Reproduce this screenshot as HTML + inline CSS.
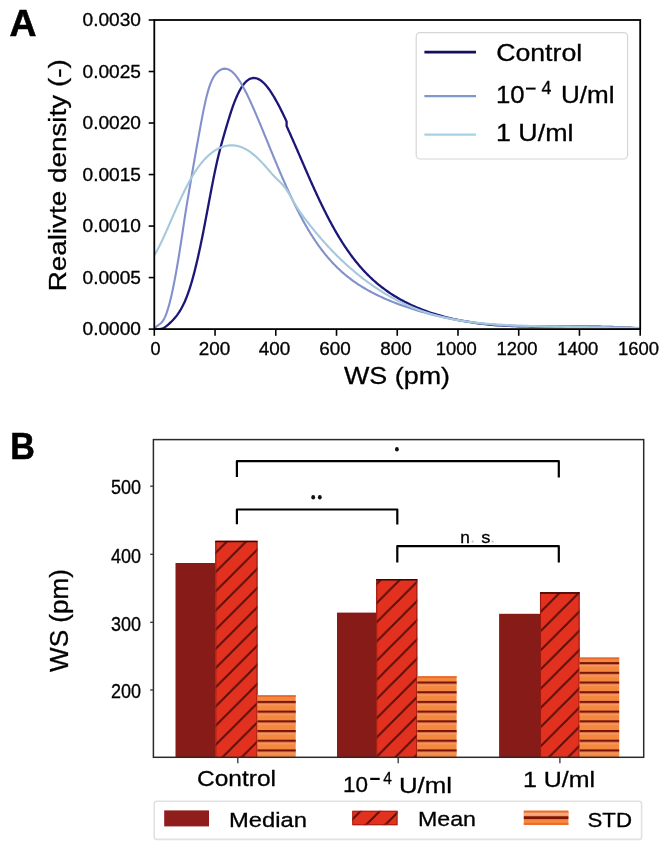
<!DOCTYPE html>
<html>
<head>
<meta charset="utf-8">
<style>
html,body{margin:0;padding:0;background:#fff;}
body{width:669px;height:846px;overflow:hidden;}
svg{display:block;filter:blur(0.35px);}
text{font-family:"Liberation Sans",sans-serif;fill:#000;stroke:#000;stroke-width:0.3px;}
</style>
</head>
<body>
<svg width="669" height="846" viewBox="0 0 669 846">
<defs>
  <pattern id="hatchD" patternUnits="userSpaceOnUse" x="0.5" y="0" width="19.2" height="19.2">
    <path d="M-3,3 L3,-3 M0,19.2 L19.2,0 M16.2,22.2 L22.2,16.2" stroke="#3e0806" stroke-width="1.9" stroke-opacity="0.85"/>
  </pattern>
  <pattern id="hatchH" patternUnits="userSpaceOnUse" x="0" y="2.500000000000032" width="20" height="9.7">
    <rect x="0" y="0" width="20" height="2.4" fill="#7a1409"/>
    <rect x="0" y="2.4" width="20" height="2.2" fill="#f59a68" fill-opacity="0.8"/>
  </pattern>
  <clipPath id="clipA"><rect x="154.3" y="20" width="485.9" height="309.1"/></clipPath>
  <clipPath id="clipB"><rect x="153.4" y="439.6" width="490.3" height="317.7"/></clipPath>
</defs>
<rect x="0" y="0" width="669" height="846" fill="#fff"/>

<!-- ============ PANEL A ============ -->
<text x="9.5" y="36.1" font-size="36" font-weight="bold" style="stroke-width:0.6px" textLength="27" lengthAdjust="spacingAndGlyphs">A</text>

<!-- curves -->
<g clip-path="url(#clipA)" fill="none" stroke-linejoin="round" stroke-linecap="round">
  <path d="M154.30,328.15 L156.47,329.13 L159.47,329.20 L162.47,328.63 L164.97,327.17 L166.68,325.89 L168.17,324.65 L169.54,323.42 L170.82,322.20 L172.04,320.98 L173.20,319.77 L174.30,318.55 L175.35,317.32 L176.34,316.10 L177.27,314.87 L178.15,313.65 L178.98,312.42 L179.76,311.20 L180.51,309.97 L181.21,308.75 L181.88,307.53 L182.52,306.31 L183.13,305.09 L183.72,303.87 L184.29,302.65 L184.83,301.44 L185.35,300.22 L185.86,299.01 L186.35,297.79 L186.83,296.58 L187.29,295.37 L187.74,294.16 L188.17,292.95 L188.60,291.73 L189.01,290.52 L189.42,289.31 L189.81,288.10 L190.20,286.90 L190.57,285.69 L190.94,284.48 L191.31,283.27 L191.66,282.06 L192.01,280.86 L192.36,279.65 L192.69,278.45 L193.02,277.24 L193.35,276.03 L193.67,274.83 L193.99,273.62 L194.30,272.42 L194.61,271.21 L194.92,270.01 L195.22,268.81 L195.52,267.59 L195.82,266.37 L196.12,265.12 L196.42,263.87 L196.72,262.60 L197.02,261.32 L197.32,260.02 L197.62,258.72 L197.92,257.39 L198.22,256.06 L198.52,254.71 L198.82,253.36 L199.12,251.99 L199.42,250.60 L199.72,249.21 L200.02,247.80 L200.32,246.39 L200.62,244.96 L200.92,243.52 L201.22,242.07 L201.52,240.61 L201.82,239.15 L202.12,237.67 L202.42,236.18 L202.72,234.68 L203.02,233.17 L203.32,231.66 L203.62,230.13 L203.92,228.60 L204.22,227.05 L204.52,225.50 L204.82,223.95 L205.12,222.38 L205.42,220.82 L205.72,219.24 L206.02,217.66 L206.32,216.08 L206.62,214.49 L206.92,212.90 L207.22,211.31 L207.52,209.72 L207.82,208.12 L208.12,206.53 L208.42,204.93 L208.72,203.34 L209.02,201.74 L209.32,200.15 L209.62,198.56 L209.92,196.97 L210.22,195.39 L210.52,193.81 L210.82,192.23 L211.12,190.66 L211.42,189.09 L211.72,187.53 L212.02,185.98 L212.32,184.43 L212.62,182.89 L212.92,181.36 L213.22,179.85 L213.52,178.34 L213.82,176.84 L214.12,175.36 L214.42,173.89 L214.72,172.43 L215.02,170.99 L215.32,169.56 L215.62,168.15 L215.92,166.76 L216.22,165.39 L216.52,164.03 L216.82,162.69 L217.12,161.37 L217.42,160.07 L217.72,158.79 L218.02,157.53 L218.32,156.28 L218.62,155.04 L218.92,153.83 L219.22,152.63 L219.52,151.44 L219.82,150.25 L220.13,149.06 L220.44,147.86 L220.76,146.67 L221.08,145.48 L221.40,144.29 L221.72,143.10 L222.05,141.91 L222.38,140.72 L222.71,139.53 L223.05,138.33 L223.39,137.14 L223.73,135.95 L224.07,134.75 L224.41,133.56 L224.76,132.37 L225.11,131.17 L225.46,129.98 L225.81,128.78 L226.16,127.59 L226.51,126.40 L226.87,125.20 L227.23,124.01 L227.59,122.82 L227.95,121.63 L228.31,120.43 L228.68,119.24 L229.05,118.05 L229.42,116.85 L229.79,115.66 L230.17,114.47 L230.55,113.28 L230.93,112.09 L231.32,110.90 L231.71,109.72 L232.12,108.53 L232.52,107.35 L232.94,106.17 L233.37,104.98 L233.80,103.80 L234.25,102.62 L234.71,101.44 L235.18,100.26 L235.66,99.08 L236.15,97.90 L236.66,96.73 L237.19,95.55 L237.73,94.38 L238.30,93.20 L238.88,92.03 L239.50,90.87 L240.14,89.70 L240.81,88.54 L241.52,87.38 L242.27,86.23 L243.08,85.08 L243.96,83.94 L244.91,82.81 L245.98,81.70 L247.20,80.61 L248.65,79.56 L250.53,78.59 L253.49,77.94 L256.49,78.31 L259.49,79.63 L261.48,80.99 L263.00,82.28 L264.30,83.54 L265.46,84.78 L266.52,86.02 L267.52,87.24 L268.45,88.47 L269.34,89.68 L270.19,90.90 L271.00,92.11 L271.79,93.32 L272.56,94.53 L273.30,95.74 L274.02,96.95 L274.73,98.15 L275.42,99.36 L276.10,100.56 L276.77,101.77 L277.42,102.97 L278.07,104.17 L278.70,105.37 L279.33,106.58 L279.94,107.78 L280.55,108.98 L281.16,110.18 L281.75,111.38 L282.34,112.58 L282.93,113.78 L283.50,114.98 L284.08,116.18 L284.65,117.38 L285.21,118.57 L285.77,119.77 L286.33,120.97 L286.59,121.53 L286.61,126.14 L287.16,127.34 L287.71,128.53 L288.26,129.73 L288.80,130.93 L289.34,132.13 L289.88,133.32 L290.41,134.52 L290.94,135.72 L291.48,136.91 L292.01,138.11 L292.53,139.31 L293.06,140.50 L293.58,141.70 L294.11,142.90 L294.63,144.09 L295.15,145.29 L295.67,146.48 L296.19,147.68 L296.71,148.87 L297.23,150.07 L297.74,151.27 L298.26,152.46 L298.78,153.66 L299.29,154.85 L299.81,156.05 L300.32,157.24 L300.84,158.44 L301.36,159.63 L301.87,160.82 L302.39,162.02 L302.90,163.21 L303.42,164.41 L303.94,165.60 L304.45,166.80 L304.97,167.99 L305.49,169.18 L306.01,170.38 L306.53,171.57 L307.05,172.77 L307.57,173.96 L308.10,175.15 L308.62,176.35 L309.15,177.54 L309.67,178.73 L310.20,179.93 L310.73,181.12 L311.26,182.31 L311.80,183.51 L312.33,184.70 L312.87,185.89 L313.40,187.08 L313.94,188.28 L314.49,189.47 L315.03,190.66 L315.58,191.85 L316.13,193.04 L316.68,194.24 L317.23,195.43 L317.78,196.62 L318.34,197.81 L318.90,199.00 L319.47,200.19 L320.03,201.39 L320.60,202.58 L321.18,203.77 L321.75,204.96 L322.33,206.15 L322.91,207.34 L323.50,208.53 L324.09,209.72 L324.68,210.91 L325.28,212.10 L325.88,213.29 L326.49,214.48 L327.10,215.67 L327.71,216.86 L328.33,218.05 L328.95,219.24 L329.58,220.43 L330.21,221.62 L330.85,222.81 L331.49,223.99 L332.14,225.18 L332.79,226.37 L333.45,227.56 L334.12,228.75 L334.79,229.94 L335.47,231.12 L336.15,232.31 L336.85,233.50 L337.54,234.68 L338.25,235.87 L338.96,237.06 L339.68,238.24 L340.41,239.43 L341.15,240.62 L341.90,241.80 L342.65,242.99 L343.41,244.17 L344.19,245.36 L344.97,246.54 L345.76,247.73 L346.57,248.91 L347.38,250.09 L348.21,251.28 L349.04,252.46 L349.89,253.64 L350.75,254.83 L351.63,256.01 L352.51,257.19 L353.42,258.37 L354.33,259.55 L355.26,260.73 L356.21,261.92 L357.17,263.10 L358.15,264.28 L359.14,265.46 L360.15,266.63 L361.19,267.81 L362.24,268.99 L363.31,270.17 L364.40,271.35 L365.52,272.52 L366.66,273.70 L367.82,274.87 L369.01,276.05 L370.22,277.22 L371.46,278.40 L372.73,279.57 L374.03,280.75 L375.36,281.92 L376.73,283.09 L378.13,284.26 L379.56,285.43 L381.04,286.60 L382.55,287.77 L384.11,288.94 L385.71,290.10 L387.35,291.27 L389.04,292.44 L390.79,293.60 L392.58,294.76 L394.44,295.93 L396.35,297.09 L398.32,298.25 L400.36,299.41 L402.47,300.57 L404.65,301.72 L406.92,302.88 L409.28,304.03 L411.73,305.18 L414.28,306.33 L416.94,307.48 L419.72,308.63 L422.63,309.77 L425.63,310.89 L428.63,311.96 L431.63,312.97 L434.63,313.93 L437.63,314.85 L440.63,315.72 L443.63,316.54 L446.63,317.32 L449.63,318.07 L452.63,318.77 L455.63,319.43 L458.63,320.06 L461.63,320.65 L464.63,321.21 L467.63,321.73 L470.63,322.22 L473.63,322.68 L476.63,323.10 L479.63,323.49 L482.63,323.85 L485.63,324.18 L488.63,324.49 L491.63,324.76 L494.63,325.01 L497.63,325.23 L500.63,325.44 L503.63,325.62 L506.63,325.78 L509.63,325.93 L512.63,326.05 L515.63,326.16 L518.63,326.26 L521.63,326.34 L524.63,326.41 L527.63,326.47 L530.63,326.52 L533.63,326.55 L536.63,326.58 L539.63,326.61 L542.63,326.62 L545.63,326.63 L548.63,326.64 L551.63,326.64 L554.63,326.63 L557.63,326.63 L560.63,326.62 L563.63,326.61 L566.63,326.61 L569.63,326.60 L572.63,326.59 L575.63,326.59 L578.63,326.59 L581.63,326.59 L584.63,326.60 L587.63,326.62 L590.63,326.63 L593.63,326.66 L596.63,326.69 L599.63,326.73 L602.63,326.78 L605.63,326.84 L608.63,326.91 L611.63,326.99 L614.63,327.08 L617.63,327.19 L620.63,327.30 L623.63,327.43 L626.63,327.58 L629.63,327.73 L632.63,327.91 L635.63,328.09 L638.63,328.30 L640.20,328.41" stroke="#1b1678" stroke-width="2.3"/>
  <path d="M154.30,329.20 L155.06,328.14 L155.95,327.06 L157.05,326.02 L158.48,324.98 L160.27,323.75 L161.78,322.32 L162.84,320.97 L163.65,319.66 L164.34,318.39 L164.94,317.13 L165.49,315.88 L165.98,314.64 L166.45,313.41 L166.88,312.18 L167.30,310.96 L167.69,309.73 L168.07,308.51 L168.43,307.30 L168.78,306.08 L169.12,304.87 L169.44,303.65 L169.76,302.44 L170.07,301.23 L170.38,300.02 L170.68,298.79 L170.98,297.54 L171.28,296.26 L171.58,294.95 L171.88,293.61 L172.18,292.25 L172.48,290.86 L172.78,289.45 L173.08,288.01 L173.38,286.54 L173.68,285.05 L173.98,283.54 L174.28,282.00 L174.58,280.44 L174.88,278.86 L175.18,277.26 L175.48,275.63 L175.78,273.99 L176.08,272.32 L176.38,270.64 L176.68,268.93 L176.98,267.21 L177.28,265.47 L177.58,263.72 L177.88,261.94 L178.18,260.15 L178.48,258.34 L178.78,256.52 L179.08,254.67 L179.38,252.82 L179.68,250.95 L179.98,249.06 L180.28,247.16 L180.58,245.25 L180.88,243.32 L181.18,241.38 L181.48,239.43 L181.78,237.46 L182.08,235.49 L182.38,233.50 L182.68,231.50 L182.98,229.48 L183.28,227.46 L183.58,225.43 L183.88,223.40 L184.18,221.38 L184.48,219.37 L184.78,217.39 L185.08,215.43 L185.38,213.50 L185.68,211.60 L185.98,209.73 L186.28,207.89 L186.58,206.06 L186.88,204.26 L187.18,202.46 L187.48,200.67 L187.78,198.89 L188.08,197.11 L188.38,195.34 L188.68,193.56 L188.98,191.79 L189.28,190.02 L189.58,188.25 L189.88,186.48 L190.18,184.72 L190.48,182.96 L190.78,181.20 L191.08,179.44 L191.38,177.69 L191.68,175.94 L191.98,174.19 L192.28,172.45 L192.58,170.71 L192.88,168.97 L193.18,167.24 L193.48,165.51 L193.78,163.78 L194.08,162.06 L194.38,160.34 L194.68,158.63 L194.98,156.92 L195.28,155.21 L195.58,153.51 L195.88,151.81 L196.18,150.11 L196.48,148.42 L196.78,146.73 L197.08,145.05 L197.38,143.36 L197.68,141.69 L197.98,140.01 L198.28,138.34 L198.58,136.68 L198.88,135.01 L199.18,133.36 L199.48,131.70 L199.78,130.06 L200.08,128.42 L200.38,126.78 L200.68,125.16 L200.98,123.54 L201.28,121.94 L201.58,120.34 L201.88,118.76 L202.18,117.19 L202.48,115.64 L202.78,114.10 L203.08,112.58 L203.38,111.08 L203.68,109.60 L203.98,108.14 L204.28,106.70 L204.58,105.28 L204.88,103.90 L205.18,102.53 L205.48,101.20 L205.78,99.89 L206.08,98.62 L206.38,97.37 L206.68,96.16 L206.98,94.98 L207.28,93.80 L207.60,92.62 L207.93,91.44 L208.27,90.27 L208.62,89.09 L208.99,87.92 L209.37,86.75 L209.77,85.58 L210.19,84.42 L210.63,83.25 L211.10,82.09 L211.60,80.94 L212.13,79.79 L212.71,78.64 L213.33,77.50 L214.01,76.36 L214.77,75.23 L215.61,74.11 L216.56,73.00 L217.66,71.90 L218.95,70.83 L220.55,69.81 L222.74,68.92 L225.74,68.66 L228.74,69.50 L231.26,71.05 L232.82,72.37 L234.09,73.64 L235.20,74.89 L236.21,76.13 L237.14,77.36 L238.02,78.59 L238.85,79.81 L239.64,81.02 L240.40,82.24 L241.13,83.45 L241.84,84.66 L242.53,85.87 L243.21,87.08 L243.86,88.28 L244.50,89.49 L245.13,90.69 L245.75,91.90 L246.36,93.10 L246.95,94.31 L247.54,95.51 L248.12,96.71 L248.70,97.91 L249.26,99.11 L249.82,100.31 L250.38,101.51 L250.93,102.71 L251.47,103.91 L252.01,105.11 L252.55,106.31 L253.08,107.51 L253.60,108.71 L254.13,109.91 L254.65,111.10 L255.17,112.30 L255.68,113.50 L256.20,114.70 L256.71,115.90 L257.21,117.09 L257.72,118.29 L258.22,119.49 L258.73,120.68 L259.23,121.88 L259.73,123.08 L260.22,124.27 L260.72,125.47 L261.22,126.67 L261.71,127.86 L262.20,129.06 L262.70,130.25 L263.19,131.45 L263.68,132.65 L264.17,133.84 L264.66,135.04 L265.15,136.23 L265.64,137.43 L266.13,138.62 L266.62,139.82 L267.11,141.01 L267.60,142.21 L268.09,143.40 L268.58,144.60 L269.07,145.79 L269.55,146.99 L270.04,148.18 L270.53,149.38 L271.03,150.57 L271.52,151.77 L272.01,152.96 L272.50,154.16 L272.99,155.35 L273.48,156.54 L273.98,157.74 L274.47,158.93 L274.97,160.13 L275.47,161.32 L275.96,162.51 L276.46,163.71 L276.96,164.90 L277.46,166.10 L277.96,167.29 L278.47,168.48 L278.97,169.67 L279.48,170.87 L279.99,172.06 L280.50,173.25 L281.01,174.45 L281.52,175.64 L282.04,176.83 L282.56,178.02 L283.08,179.22 L283.60,180.41 L284.12,181.60 L284.65,182.79 L285.18,183.99 L285.71,185.18 L286.24,186.37 L286.77,187.56 L287.31,188.75 L287.85,189.94 L288.40,191.14 L288.94,192.33 L289.49,193.52 L290.05,194.71 L290.60,195.90 L291.16,197.09 L291.72,198.28 L292.29,199.47 L292.86,200.66 L293.43,201.85 L294.01,203.04 L294.59,204.23 L295.18,205.42 L295.77,206.61 L296.36,207.80 L296.96,208.99 L297.56,210.18 L298.17,211.37 L298.78,212.56 L299.40,213.75 L300.02,214.94 L300.65,216.13 L301.28,217.32 L301.92,218.50 L302.56,219.69 L303.21,220.88 L303.87,222.07 L304.53,223.26 L305.20,224.44 L305.88,225.63 L306.56,226.82 L307.25,228.00 L307.95,229.19 L308.66,230.38 L309.37,231.56 L310.10,232.75 L310.83,233.93 L311.57,235.12 L312.32,236.30 L313.09,237.49 L313.86,238.67 L314.64,239.85 L315.43,241.04 L316.24,242.22 L317.06,243.40 L317.89,244.59 L318.73,245.77 L319.58,246.95 L320.45,248.13 L321.33,249.32 L322.23,250.50 L323.14,251.68 L324.07,252.86 L325.02,254.04 L325.98,255.22 L326.96,256.40 L327.95,257.58 L328.97,258.75 L330.01,259.93 L331.07,261.11 L332.14,262.29 L333.25,263.46 L334.37,264.64 L335.52,265.81 L336.70,266.99 L337.90,268.16 L339.13,269.34 L340.39,270.51 L341.68,271.68 L343.01,272.85 L344.37,274.03 L345.76,275.20 L347.19,276.36 L348.66,277.53 L350.18,278.70 L351.73,279.87 L353.34,281.04 L354.99,282.20 L356.69,283.37 L358.44,284.53 L360.26,285.69 L362.12,286.86 L364.05,288.02 L366.04,289.18 L368.10,290.34 L370.22,291.50 L372.41,292.66 L374.67,293.82 L377.00,294.98 L379.41,296.13 L381.89,297.29 L384.44,298.45 L387.09,299.60 L389.82,300.75 L392.64,301.90 L395.57,303.05 L398.57,304.19 L401.57,305.29 L404.57,306.35 L407.57,307.38 L410.57,308.36 L413.57,309.32 L416.57,310.24 L419.57,311.13 L422.57,311.99 L425.57,312.83 L428.57,313.63 L431.57,314.41 L434.57,315.16 L437.57,315.88 L440.57,316.58 L443.57,317.25 L446.57,317.89 L449.57,318.51 L452.57,319.11 L455.57,319.68 L458.57,320.23 L461.57,320.75 L464.57,321.25 L467.57,321.72 L470.57,322.16 L473.57,322.58 L476.57,322.98 L479.57,323.35 L482.57,323.69 L485.57,324.00 L488.57,324.30 L491.57,324.57 L494.57,324.81 L497.57,325.04 L500.57,325.25 L503.57,325.43 L506.57,325.60 L509.57,325.76 L512.57,325.89 L515.57,326.02 L518.57,326.13 L521.57,326.22 L524.57,326.31 L527.57,326.38 L530.57,326.45 L533.57,326.50 L536.57,326.55 L539.57,326.58 L542.57,326.62 L545.57,326.64 L548.57,326.66 L551.57,326.68 L554.57,326.69 L557.57,326.70 L560.57,326.71 L563.57,326.71 L566.57,326.72 L569.57,326.73 L572.57,326.73 L575.57,326.74 L578.57,326.75 L581.57,326.77 L584.57,326.78 L587.57,326.80 L590.57,326.83 L593.57,326.86 L596.57,326.90 L599.57,326.95 L602.57,327.01 L605.57,327.07 L608.57,327.14 L611.57,327.22 L614.57,327.32 L617.57,327.42 L620.57,327.54 L623.57,327.66 L626.57,327.80 L629.57,327.96 L632.57,328.13 L635.57,328.31 L638.57,328.51 L640.20,328.63" stroke="#8290cb" stroke-width="2.1"/>
  <path d="M154.30,255.20 L155.05,253.98 L155.77,252.76 L156.47,251.55 L157.14,250.34 L157.80,249.13 L158.43,247.92 L159.05,246.72 L159.66,245.51 L160.26,244.31 L160.85,243.10 L161.42,241.90 L161.99,240.70 L162.56,239.50 L163.11,238.30 L163.66,237.10 L164.21,235.90 L164.75,234.70 L165.29,233.50 L165.82,232.30 L166.35,231.11 L166.88,229.91 L167.41,228.71 L167.94,227.52 L168.47,226.32 L168.99,225.13 L169.52,223.93 L170.04,222.73 L170.56,221.54 L171.08,220.34 L171.61,219.15 L172.13,217.95 L172.65,216.76 L173.17,215.57 L173.70,214.37 L174.22,213.18 L174.75,211.98 L175.27,210.79 L175.80,209.60 L176.33,208.41 L176.86,207.21 L177.39,206.02 L177.93,204.83 L178.47,203.64 L179.01,202.45 L179.55,201.25 L180.10,200.06 L180.65,198.87 L181.20,197.68 L181.76,196.49 L182.32,195.30 L182.89,194.11 L183.46,192.93 L184.04,191.74 L184.62,190.55 L185.21,189.36 L185.81,188.17 L186.41,186.99 L187.02,185.80 L187.64,184.62 L188.27,183.43 L188.90,182.25 L189.55,181.06 L190.21,179.88 L190.88,178.70 L191.56,177.51 L192.25,176.33 L192.96,175.15 L193.68,173.97 L194.42,172.79 L195.18,171.61 L195.95,170.44 L196.75,169.26 L197.57,168.09 L198.41,166.91 L199.27,165.74 L200.16,164.57 L201.09,163.40 L202.05,162.23 L203.04,161.06 L204.07,159.90 L205.15,158.73 L206.28,157.57 L207.47,156.42 L208.72,155.26 L210.05,154.11 L211.46,152.97 L212.98,151.83 L214.63,150.70 L216.45,149.59 L218.50,148.49 L220.87,147.42 L223.75,146.41 L226.75,145.70 L229.75,145.33 L232.75,145.31 L235.75,145.63 L238.75,146.31 L241.75,147.33 L244.70,148.66 L247.01,149.94 L249.00,151.19 L250.77,152.42 L252.40,153.65 L253.92,154.88 L255.34,156.09 L256.69,157.31 L257.99,158.52 L259.23,159.73 L260.43,160.94 L261.59,162.14 L262.72,163.35 L263.82,164.55 L264.89,165.75 L265.95,166.95 L267.00,168.14 L268.03,169.34 L269.06,170.53 L270.08,171.71 L271.11,172.90 L272.15,174.08 L273.21,175.25 L274.30,176.42 L275.43,177.59 L276.59,178.76 L277.80,179.93 L279.04,181.11 L280.29,182.31 L281.51,183.53 L282.66,184.76 L283.73,186.00 L284.72,187.24 L285.63,188.47 L286.48,189.70 L287.28,190.92 L288.04,192.14 L288.77,193.35 L289.48,194.56 L290.18,195.76 L290.86,196.96 L291.53,198.16 L292.21,199.35 L292.88,200.54 L293.56,201.72 L294.25,202.91 L294.95,204.09 L295.66,205.27 L296.38,206.45 L297.13,207.63 L297.89,208.81 L298.66,209.99 L299.46,211.17 L300.27,212.35 L301.11,213.53 L301.95,214.71 L302.82,215.89 L303.69,217.07 L304.58,218.26 L305.48,219.44 L306.38,220.63 L307.30,221.81 L308.22,223.00 L309.15,224.19 L310.09,225.37 L311.03,226.56 L311.98,227.74 L312.94,228.93 L313.90,230.12 L314.87,231.30 L315.85,232.49 L316.84,233.67 L317.84,234.86 L318.84,236.04 L319.85,237.23 L320.87,238.41 L321.90,239.60 L322.94,240.78 L323.99,241.96 L325.05,243.15 L326.12,244.33 L327.20,245.51 L328.30,246.70 L329.40,247.88 L330.51,249.06 L331.64,250.25 L332.77,251.43 L333.92,252.61 L335.09,253.79 L336.26,254.97 L337.45,256.15 L338.65,257.34 L339.87,258.52 L341.10,259.70 L342.35,260.88 L343.60,262.06 L344.88,263.24 L346.17,264.42 L347.48,265.60 L348.80,266.78 L350.14,267.96 L351.50,269.13 L352.88,270.31 L354.27,271.49 L355.69,272.67 L357.12,273.85 L358.57,275.02 L360.05,276.20 L361.54,277.38 L363.06,278.55 L364.60,279.73 L366.17,280.90 L367.76,282.08 L369.38,283.25 L371.02,284.42 L372.70,285.60 L374.40,286.77 L376.13,287.94 L377.90,289.11 L379.70,290.28 L381.54,291.45 L383.42,292.62 L385.34,293.79 L387.30,294.95 L389.31,296.12 L391.37,297.28 L393.49,298.44 L395.66,299.61 L397.90,300.77 L400.20,301.92 L402.58,303.08 L405.04,304.23 L407.58,305.39 L410.23,306.54 L412.98,307.68 L415.85,308.83 L418.85,309.97 L421.85,311.05 L424.85,312.07 L427.85,313.04 L430.85,313.96 L433.85,314.83 L436.85,315.65 L439.85,316.42 L442.85,317.15 L445.85,317.83 L448.85,318.47 L451.85,319.07 L454.85,319.63 L457.85,320.15 L460.85,320.64 L463.85,321.10 L466.85,321.52 L469.85,321.92 L472.85,322.29 L475.85,322.63 L478.85,322.95 L481.85,323.25 L484.85,323.53 L487.85,323.78 L490.85,324.02 L493.85,324.24 L496.85,324.45 L499.85,324.64 L502.85,324.82 L505.85,324.99 L508.85,325.14 L511.85,325.28 L514.85,325.42 L517.85,325.54 L520.85,325.66 L523.85,325.77 L526.85,325.88 L529.85,325.97 L532.85,326.07 L535.85,326.15 L538.85,326.24 L541.85,326.31 L544.85,326.39 L547.85,326.46 L550.85,326.53 L553.85,326.59 L556.85,326.65 L559.85,326.71 L562.85,326.77 L565.85,326.83 L568.85,326.88 L571.85,326.93 L574.85,326.98 L577.85,327.03 L580.85,327.08 L583.85,327.12 L586.85,327.17 L589.85,327.21 L592.85,327.25 L595.85,327.29 L598.85,327.33 L601.85,327.37 L604.85,327.41 L607.85,327.45 L610.85,327.48 L613.85,327.52 L616.85,327.55 L619.85,327.59 L622.85,327.62 L625.85,327.65 L628.85,327.68 L631.85,327.71 L634.85,327.74 L637.85,327.77 L640.20,327.80" stroke="#a6c8dc" stroke-width="2.1"/>
</g>

<!-- axes box A -->
<rect x="154.3" y="20" width="485.9" height="309.1" fill="none" stroke="#000" stroke-width="1.8"/>

<!-- y ticks A -->
<g stroke="#000" stroke-width="1.6">
  <line x1="148.7" y1="329.10" x2="154.3" y2="329.10"/>
  <line x1="148.7" y1="277.58" x2="154.3" y2="277.58"/>
  <line x1="148.7" y1="226.07" x2="154.3" y2="226.07"/>
  <line x1="148.7" y1="174.55" x2="154.3" y2="174.55"/>
  <line x1="148.7" y1="123.03" x2="154.3" y2="123.03"/>
  <line x1="148.7" y1="71.51" x2="154.3" y2="71.51"/>
  <line x1="148.7" y1="20.00" x2="154.3" y2="20.00"/>
</g>
<g font-size="17.5" text-anchor="end">
  <text x="141" y="335.30" textLength="58.5" lengthAdjust="spacingAndGlyphs">0.0000</text>
  <text x="141" y="283.78" textLength="58.5" lengthAdjust="spacingAndGlyphs">0.0005</text>
  <text x="141" y="232.27" textLength="58.5" lengthAdjust="spacingAndGlyphs">0.0010</text>
  <text x="141" y="180.75" textLength="58.5" lengthAdjust="spacingAndGlyphs">0.0015</text>
  <text x="141" y="129.23" textLength="58.5" lengthAdjust="spacingAndGlyphs">0.0020</text>
  <text x="141" y="77.71" textLength="58.5" lengthAdjust="spacingAndGlyphs">0.0025</text>
  <text x="141" y="26.20" textLength="58.5" lengthAdjust="spacingAndGlyphs">0.0030</text>
</g>

<!-- x ticks A -->
<g stroke="#000" stroke-width="1.6">
  <line x1="154.30" y1="329.1" x2="154.30" y2="335.8"/>
  <line x1="215.04" y1="329.1" x2="215.04" y2="335.8"/>
  <line x1="275.77" y1="329.1" x2="275.77" y2="335.8"/>
  <line x1="336.51" y1="329.1" x2="336.51" y2="335.8"/>
  <line x1="397.25" y1="329.1" x2="397.25" y2="335.8"/>
  <line x1="457.99" y1="329.1" x2="457.99" y2="335.8"/>
  <line x1="518.72" y1="329.1" x2="518.72" y2="335.8"/>
  <line x1="579.46" y1="329.1" x2="579.46" y2="335.8"/>
  <line x1="640.20" y1="329.1" x2="640.20" y2="335.8"/>
</g>
<g font-size="18" text-anchor="middle">
  <text x="155.6" y="354.5">0</text>
  <text x="214.5" y="354.5" textLength="31.5" lengthAdjust="spacingAndGlyphs">200</text>
  <text x="274.6" y="354.5" textLength="31.5" lengthAdjust="spacingAndGlyphs">400</text>
  <text x="335.0" y="354.5" textLength="31.5" lengthAdjust="spacingAndGlyphs">600</text>
  <text x="396.1" y="354.5" textLength="31.5" lengthAdjust="spacingAndGlyphs">800</text>
  <text x="456.3" y="354.5" textLength="41" lengthAdjust="spacingAndGlyphs">1000</text>
  <text x="517.0" y="354.5" textLength="41" lengthAdjust="spacingAndGlyphs">1200</text>
  <text x="577.8" y="354.5" textLength="41" lengthAdjust="spacingAndGlyphs">1400</text>
  <text x="638.6" y="354.5" textLength="41" lengthAdjust="spacingAndGlyphs">1600</text>
</g>
<text x="344" y="384" font-size="24" textLength="106" lengthAdjust="spacingAndGlyphs">WS (pm)</text>
<text transform="translate(66,291.3) rotate(-90)" font-size="23.5" textLength="232" lengthAdjust="spacingAndGlyphs">Realivte density (-)</text>

<!-- legend A -->
<rect x="416.2" y="32.6" width="211.4" height="126.4" rx="4" ry="4" fill="#fff" fill-opacity="0.8" stroke="#d6d6d6" stroke-width="1.2"/>
<g fill="none">
  <line x1="424.4" y1="52.2" x2="476" y2="52.2" stroke="#140f60" stroke-width="2.8"/>
  <line x1="424.4" y1="96.1" x2="476" y2="96.1" stroke="#7c98cf" stroke-width="2.3"/>
  <line x1="424.4" y1="134.6" x2="476" y2="134.6" stroke="#a6d2e6" stroke-width="2.3"/>
</g>
<g font-size="23.2">
  <text x="496.2" y="60.6" textLength="86" lengthAdjust="spacingAndGlyphs">Control</text>
  <text x="496" y="102.6" textLength="28.6" lengthAdjust="spacingAndGlyphs">10</text>
  <rect x="526" y="87.6" width="9.6" height="2" fill="#000"/>
  <text x="541.4" y="93.6" font-size="17.8">4</text>
  <text x="561" y="102.6" textLength="53.5" lengthAdjust="spacingAndGlyphs">U/ml</text>
  <text x="496" y="141.4" textLength="77.5" lengthAdjust="spacingAndGlyphs">1 U/ml</text>
</g>

<!-- ============ PANEL B ============ -->
<text x="10.3" y="459.1" font-size="36" font-weight="bold" style="stroke-width:0.6px" textLength="24.6" lengthAdjust="spacingAndGlyphs">B</text>

<!-- bars -->
<g clip-path="url(#clipB)">
  <rect x="175.5" y="563.0" width="39.8" height="237.0" fill="#861b17"/>
  <rect x="215.3" y="540.9" width="42.2" height="259.1" fill="#e2321f"/>
  <rect x="215.3" y="540.9" width="42.2" height="259.1" fill="url(#hatchD)"/>
  <rect x="215.8" y="541.4" width="41.2" height="259.1" fill="none" stroke="#9a1a10" stroke-width="1.1"/>
  <line x1="215.3" y1="541.5" x2="257.5" y2="541.5" stroke="#3a0806" stroke-width="1.5"/>
  <rect x="257.5" y="695.3" width="38.2" height="104.7" fill="#f4883f"/>
  <rect x="257.5" y="695.3" width="38.2" height="104.7" fill="url(#hatchH)"/>
  <line x1="257.5" y1="696.1999999999999" x2="295.7" y2="696.1999999999999" stroke="#e8682e" stroke-width="1.8"/>
  <rect x="337.0" y="612.6" width="39.2" height="187.4" fill="#861b17"/>
  <rect x="376.2" y="579.2" width="41.1" height="220.8" fill="#e2321f"/>
  <rect x="376.2" y="579.2" width="41.1" height="220.8" fill="url(#hatchD)"/>
  <rect x="376.7" y="579.7" width="40.1" height="220.8" fill="none" stroke="#9a1a10" stroke-width="1.1"/>
  <line x1="376.2" y1="579.8000000000001" x2="417.3" y2="579.8000000000001" stroke="#3a0806" stroke-width="1.5"/>
  <rect x="417.3" y="676.3" width="39.3" height="123.7" fill="#f4883f"/>
  <rect x="417.3" y="676.3" width="39.3" height="123.7" fill="url(#hatchH)"/>
  <line x1="417.3" y1="677.1999999999999" x2="456.6" y2="677.1999999999999" stroke="#e8682e" stroke-width="1.8"/>
  <rect x="499.1" y="613.8" width="40.9" height="186.2" fill="#861b17"/>
  <rect x="540.0" y="592.3" width="39.6" height="207.7" fill="#e2321f"/>
  <rect x="540.0" y="592.3" width="39.6" height="207.7" fill="url(#hatchD)"/>
  <rect x="540.5" y="592.8" width="38.6" height="207.7" fill="none" stroke="#9a1a10" stroke-width="1.1"/>
  <line x1="540.0" y1="592.9" x2="579.6" y2="592.9" stroke="#3a0806" stroke-width="1.5"/>
  <rect x="579.6" y="657.5" width="39.6" height="142.5" fill="#f4883f"/>
  <rect x="579.6" y="657.5" width="39.6" height="142.5" fill="url(#hatchH)"/>
  <line x1="579.6" y1="658.4" x2="619.2" y2="658.4" stroke="#e8682e" stroke-width="1.8"/>
</g>

<!-- axes box B -->
<rect x="153.4" y="439.6" width="490.3" height="317.7" fill="none" stroke="#2a2a2a" stroke-width="1.5"/>

<!-- y ticks B -->
<g stroke="#333" stroke-width="1.3">
  <line x1="150.2" y1="486.2" x2="153.4" y2="486.2"/>
  <line x1="150.2" y1="554.3" x2="153.4" y2="554.3"/>
  <line x1="150.2" y1="622.3" x2="153.4" y2="622.3"/>
  <line x1="150.2" y1="690" x2="153.4" y2="690"/>
</g>
<g font-size="19.5" text-anchor="end">
  <text x="141" y="494.4" textLength="30" lengthAdjust="spacingAndGlyphs">500</text>
  <text x="141" y="562.5" textLength="30" lengthAdjust="spacingAndGlyphs">400</text>
  <text x="141" y="630.5" textLength="30" lengthAdjust="spacingAndGlyphs">300</text>
  <text x="141" y="698.2" textLength="30" lengthAdjust="spacingAndGlyphs">200</text>
</g>
<!-- x ticks B -->
<g stroke="#333" stroke-width="1.3">
  <line x1="237.8" y1="757.1" x2="237.8" y2="763.2"/>
  <line x1="398.2" y1="757.1" x2="398.2" y2="763.2"/>
  <line x1="559.9" y1="757.1" x2="559.9" y2="763.2"/>
</g>
<g font-size="21.8">
  <text x="197" y="785.6" textLength="79" lengthAdjust="spacingAndGlyphs">Control</text>
  <text x="343" y="792.2" textLength="25" lengthAdjust="spacingAndGlyphs">10</text>
  <rect x="370.2" y="777.8" width="9.5" height="2.2" fill="#000"/>
  <text x="383.3" y="783.7" font-size="16.5" textLength="8.6" lengthAdjust="spacingAndGlyphs">4</text>
  <text x="399" y="792.6" textLength="53" lengthAdjust="spacingAndGlyphs">U/ml</text>
  <text x="523" y="787.4" textLength="72" lengthAdjust="spacingAndGlyphs">1 U/ml</text>
</g>
<text transform="translate(68.4,672) rotate(-90)" font-size="25" textLength="103" lengthAdjust="spacingAndGlyphs">WS (pm)</text>

<!-- significance brackets -->
<g stroke="#000" stroke-width="2.2" fill="none" stroke-linejoin="round">
  <path d="M236.9,477 L236.9,461.2 L558.8,461.2 L558.8,477.4"/>
  <path d="M236.9,524.3 L236.9,509.5 L397.3,509.5 L397.3,524.6"/>
  <path d="M397.3,562.6 L397.3,546.1 L558.8,546.1 L558.8,562.6"/>
</g>
<g fill="#111">
  <ellipse cx="396.9" cy="449.2" rx="1.9" ry="2.3"/>
  <ellipse cx="313.2" cy="497.3" rx="1.9" ry="2.3"/>
  <ellipse cx="319.8" cy="497.3" rx="1.9" ry="2.3"/>
</g>
<g font-size="16.5">
  <text x="460.3" y="542.5" textLength="9.6" lengthAdjust="spacingAndGlyphs">n</text>
  <text x="481.2" y="542.5" textLength="9.2" lengthAdjust="spacingAndGlyphs">s</text>
</g>
<g fill="#bbb">
  <circle cx="472.6" cy="541.4" r="1"/>
  <circle cx="492.6" cy="541.4" r="1"/>
</g>

<!-- legend B -->
<rect x="154.2" y="801.3" width="487.4" height="38.1" rx="2.5" ry="2.5" fill="#fff" stroke="#e2e2e2" stroke-width="1.6"/>
<rect x="164.2" y="810.4" width="44.8" height="16" fill="#8e1d1b"/>
<rect x="352.3" y="810.8" width="45.2" height="14.4" fill="#e2321f"/>
<rect x="352.3" y="810.8" width="45.2" height="14.4" fill="url(#hatchD)"/>
<rect x="352.8" y="811.3" width="44.2" height="13.4" fill="none" stroke="#a81a12" stroke-width="1"/>
<rect x="523.8" y="810.7" width="44.6" height="14.2" fill="#f4883f"/>
<rect x="523.8" y="810.7" width="44.6" height="2" fill="#ec6a2c"/>
<rect x="523.8" y="812.7" width="44.6" height="3" fill="#f7aa80"/>
<rect x="523.8" y="816.3" width="44.6" height="2.8" fill="#7a1409"/>
<rect x="523.8" y="822.9" width="44.6" height="2" fill="#ec6a2c"/>
<g font-size="20.5">
  <text x="229" y="827.2" textLength="78" lengthAdjust="spacingAndGlyphs">Median</text>
  <text x="418" y="825.8" textLength="58" lengthAdjust="spacingAndGlyphs">Mean</text>
  <text x="587.5" y="827" textLength="44.5" lengthAdjust="spacingAndGlyphs">STD</text>
</g>
</svg>
</body>
</html>
